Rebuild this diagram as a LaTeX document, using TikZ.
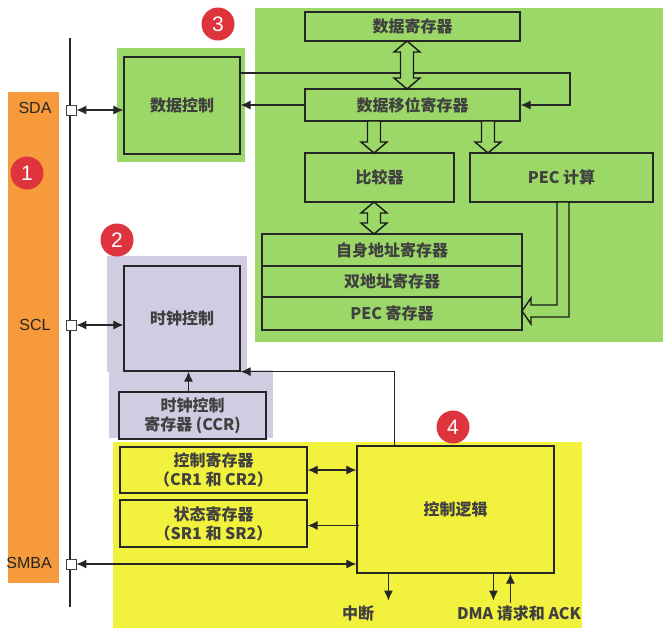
\documentclass[tikz,border=0pt]{standalone}
\usepackage{fontspec}
\setmainfont{Noto Sans CJK SC}
\newfontfamily\arialfont{Liberation Sans}
\usetikzlibrary{arrows.meta,calc}
\definecolor{busorange}{RGB}{246,154,60}
\definecolor{zonegreen}{RGB}{155,216,104}
\definecolor{zonepurple}{RGB}{210,204,226}
\definecolor{zoneyellow}{RGB}{242,242,62}
\definecolor{badgered}{RGB}{222,52,62}
\newcommand{\hollowdown}[3]{% x, top, tip
  \draw[blockarrow] (#1-6.5,#2) -- (#1+6.5,#2) -- (#1+6.5,#3-11) -- (#1+13,#3-11) -- (#1,#3)
    -- (#1-13,#3-11) -- (#1-6.5,#3-11) -- cycle;}
\newcommand{\hollowboth}[3]{% x, top tip, bottom tip
  \draw[blockarrow] (#1,#2) -- (#1+13,#2+11) -- (#1+6.5,#2+11) -- (#1+6.5,#3-11) -- (#1+13,#3-11)
    -- (#1,#3) -- (#1-13,#3-11) -- (#1-6.5,#3-11) -- (#1-6.5,#2+11) -- (#1-13,#2+11) -- cycle;}
\begin{document}
\begin{tikzpicture}[x=1pt,y=-1pt,
  every node/.style={font=\bfseries\fontsize{16}{20}\selectfont,text=black!75},
  reg/.style={draw=black!85,line width=1.2pt,inner sep=0pt,align=center},
  pin/.style={draw=black!75,fill=white,minimum size=10pt,inner sep=0pt,line width=0.8pt},
  badge/.style={circle,fill=badgered,text=white,minimum size=33pt,inner sep=0pt,font=\arialfont\fontsize{21}{21}\selectfont},
  buslbl/.style={font=\arialfont\fontsize{16}{16}\selectfont,text=black!85},
  sig/.style={draw=black!85,line width=1.1pt},
  tip/.style={sig,-{Latex[length=10pt,width=9pt]}},
  tips/.style={sig,{Latex[length=10pt,width=9pt]}-{Latex[length=10pt,width=9pt]}},
  blockarrow/.style={draw=black!90,line width=1.4pt,line join=miter,fill=zonegreen}]
\useasboundingbox (0,0) rectangle (664,630);
% zones
\fill[busorange] (8,92) rectangle (59,583);
\fill[zonegreen] (117,48) rectangle (245,162);
\fill[zonegreen] (255,8) rectangle (663,342);
\fill[zonepurple] (107,256) rectangle (247,372);
\fill[zonepurple] (109,370) rectangle (273,438);
\fill[zoneyellow] (113,442) rectangle (582,628);
% bus
\draw[sig] (70,38) -- (70,607);
\node[buslbl] at (35,108) {SDA};
\node[buslbl] at (35,325) {SCL};
\node[buslbl] at (29,563) {SMBA};
% data part
\node[reg,minimum width=116pt,minimum height=97pt] (dctrl) at (182,105.5) {数据控制};
\node[reg,minimum width=215pt,minimum height=29pt] (dreg) at (412.5,26.5) {数据寄存器};
\node[reg,minimum width=215pt,minimum height=32pt] (shreg) at (412.5,105) {数据移位寄存器};
\node[reg,minimum width=149pt,minimum height=49pt] (cmp) at (379.5,177.5) {比较器};
\node[reg,minimum width=183pt,minimum height=49pt] (pec) at (561.5,177.5) {PEC 计算};
\node[reg,minimum width=260pt,minimum height=32pt] (oar) at (392,250) {自身地址寄存器};
\node[reg,minimum width=260pt,minimum height=31pt] (dar) at (392,281.5) {双地址寄存器};
\node[reg,minimum width=260pt,minimum height=33pt] (pecreg) at (392,313.5) {PEC 寄存器};
% clock part
\node[reg,minimum width=116pt,minimum height=105pt] (cctrl) at (182,318.5) {时钟控制};
\node[reg,minimum width=147pt,minimum height=47pt,font=\bfseries\fontsize{16}{19}\selectfont] (ccr) at (192.5,415.5) {时钟控制\\寄存器 (CCR)};
% control part
\node[reg,minimum width=187pt,minimum height=46pt,font=\bfseries\fontsize{16}{19}\selectfont] (cr) at (213.5,470) {控制寄存器\\（CR1 和 CR2）};
\node[reg,minimum width=187pt,minimum height=47pt,font=\bfseries\fontsize{16}{19}\selectfont] (sr) at (213.5,523.5) {状态寄存器\\（SR1 和 SR2）};
\node[reg,minimum width=197pt,minimum height=127pt] (logic) at (455.5,509.5) {控制逻辑};
\node at (358,613) {中断};
\node at (519,613) {DMA 请求和 ACK};
% pins
\node[pin] (sda) at (71,110) {};
\node[pin] (scl) at (71,325) {};
\node[pin] (smba) at (71,564) {};
% signals
\coordinate (loopc) at (570,73);
\draw[tips] (sda.east) -- (sda.east -| dctrl.west);
\draw[tips] (scl.east) -- (scl.east -| cctrl.west);
\draw[tips] (smba.east) -- (smba.east -| logic.west);
\draw[tip] (shreg.west) -- (shreg.west -| dctrl.east);
\draw[tip] (dctrl.east |- loopc) -- (loopc) |- (shreg.east);
\draw[tip] ($(ccr.north)+(-4,0)$) -- ($(ccr.north |- cctrl.south)+(-4,0)$);
\draw[tip] ($(logic.north west)+(38,0)$) |- (cctrl.south east);
\draw[tips] (cr.east) -- (cr.east -| logic.west);
\draw[tip] ($(sr.east -| logic.west)+(3,2)$) -- ($(sr.east)+(0,2)$);
\draw[tip] ($(logic.south west)+(32,0)$) -- ++(0,27);
\draw[tip] ($(logic.south west)+(137,0)$) -- ++(0,27);
\draw[tip] ($(logic.south west)+(154,29)$) -- ++(0,-29);
% block arrows
\hollowboth{407}{41}{89}
\hollowdown{374}{121}{153}
\hollowdown{488}{121}{153}
\hollowboth{374}{202}{234}
\draw[blockarrow] (557,202) -- (557,305) -- (531,305) -- (531,298) -- (522,311) -- (531,324)
  -- (531,317) -- (569,317) -- (569,202) -- cycle;
% badges
\node[badge] (b1) at (27,173) {1};
\node[badge] (b2) at (117,240) {2};
\node[badge] (b3) at (218,24) {3};
\node[badge] (b4) at (453,427) {4};
\end{tikzpicture}
\end{document}
